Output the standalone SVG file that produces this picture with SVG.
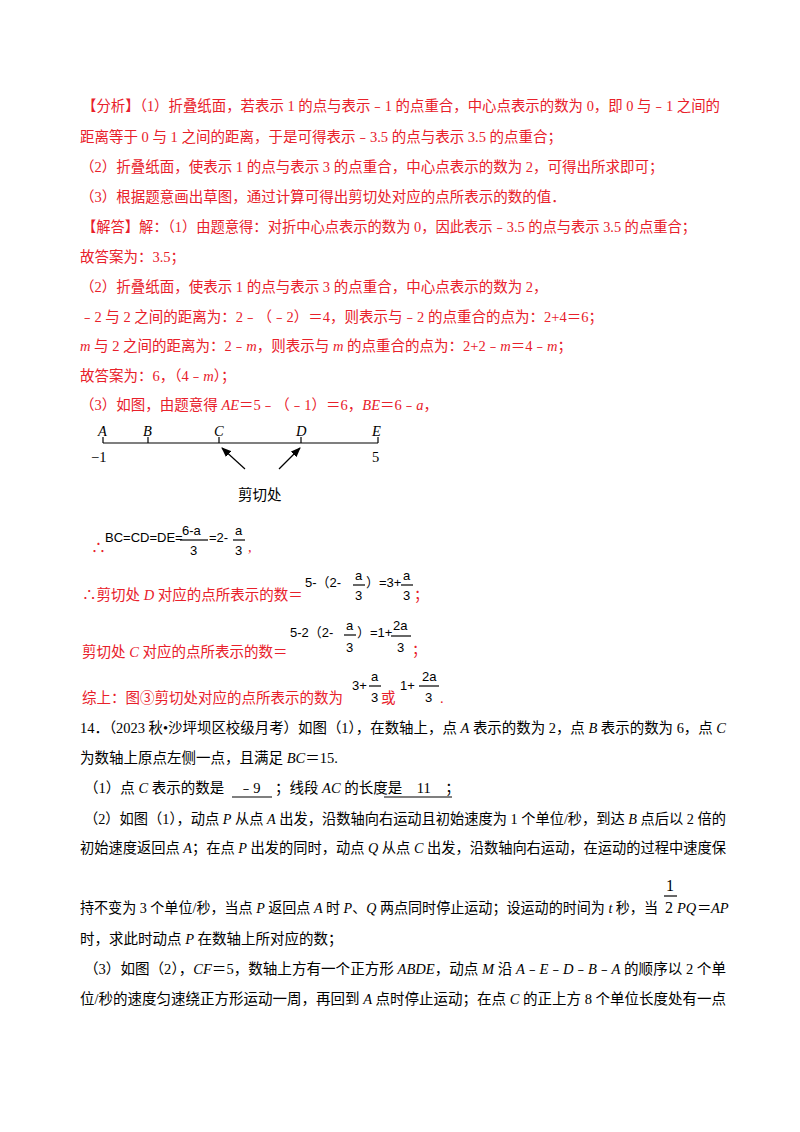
<svg xmlns="http://www.w3.org/2000/svg" width="800" height="1132" viewBox="0 0 800 1132">
<style>
text{font-family:"Liberation Serif","Noto Sans CJK SC",serif;font-size:14.5px;fill:#000}
.r{fill:#e8202a}
.f{font-family:"Liberation Sans","Noto Sans CJK SC",sans-serif;font-size:13px;fill:#000}
.i{font-style:italic}
line{stroke:#000;stroke-width:1.2}
</style>
<defs><marker id="ah" markerWidth="10" markerHeight="8" refX="9" refY="4" orient="auto" markerUnits="userSpaceOnUse"><path d="M0,0 L10,4 L0,8 z" fill="#000"/></marker></defs>
<rect width="800" height="1132" fill="#fff"/>
<g class="r">
<text class="r" x="82" y="111" textLength="638" lengthAdjust="spacingAndGlyphs">【分析】（1）折叠纸面，若表示 1 的点与表示﹣1 的点重合，中心点表示的数为 0，即 0 与﹣1 之间的</text>
<text class="r" x="80" y="142">距离等于 0 与 1 之间的距离，于是可得表示﹣3.5 的点与表示 3.5 的点重合；</text>
<text class="r" x="80" y="172">（2）折叠纸面，使表示 1 的点与表示 3 的点重合，中心点表示的数为 2，可得出所求即可；</text>
<text class="r" x="80" y="202">（3）根据题意画出草图，通过计算可得出剪切处对应的点所表示的数的值．</text>
<text class="r" x="82" y="232" textLength="614" lengthAdjust="spacingAndGlyphs">【解答】解：（1）由题意得：对折中心点表示的数为 0，因此表示﹣3.5 的点与表示 3.5 的点重合；</text>
<text class="r" x="80" y="262">故答案为：3.5；</text>
<text class="r" x="80" y="292">（2）折叠纸面，使表示 1 的点与表示 3 的点重合，中心点表示的数为 2，</text>
<text class="r" x="80" y="322">﹣2 与 2 之间的距离为：2﹣（﹣2）＝4，则表示与﹣2 的点重合的点为：2+4＝6；</text>
<text class="r" x="80" y="351"><tspan class="i">m</tspan> 与 2 之间的距离为：2﹣<tspan class="i">m</tspan>，则表示与 <tspan class="i">m</tspan> 的点重合的点为：2+2﹣<tspan class="i">m</tspan>＝4﹣<tspan class="i">m</tspan>；</text>
<text class="r" x="80" y="381">故答案为：6，（4﹣<tspan class="i">m</tspan>）；</text>
<text class="r" x="80" y="410">（3）如图，由题意得 <tspan class="i">AE</tspan>＝5﹣（﹣1）＝6，<tspan class="i">BE</tspan>＝6﹣<tspan class="i">a</tspan>，</text>
</g>
<g id="numberline">
<line x1="103" y1="443" x2="378" y2="443"/>
<line x1="103" y1="437" x2="103" y2="443"/><line x1="148" y1="437" x2="148" y2="443"/><line x1="219" y1="437" x2="219" y2="443"/><line x1="301" y1="437" x2="301" y2="443"/><line x1="378" y1="437" x2="378" y2="443"/>
<text class="i" x="98" y="436">A</text><text class="i" x="143" y="436">B</text><text class="i" x="214" y="436">C</text><text class="i" x="296" y="436">D</text><text class="i" x="372" y="436">E</text>
<text x="91" y="462">−1</text><text x="372" y="462">5</text>
<line x1="245" y1="469" x2="222" y2="448" marker-end="url(#ah)"/>
<line x1="279" y1="469" x2="300" y2="448" marker-end="url(#ah)"/>
<text x="238" y="500">剪切处</text>
</g>
<g>
<text class="r" x="91" y="553" style="font-size:15px">∴</text>
<text class="f" x="105" y="542">BC=CD=DE=</text>
<text class="f" x="182" y="535">6-a</text><line x1="180" y1="540" x2="208" y2="540" stroke-width="0.8"/><text class="f" x="190" y="555">3</text>
<text class="f" x="209" y="542">=2-</text>
<text class="f" x="235" y="535">a</text><line x1="233" y1="540" x2="245" y2="540" stroke-width="0.8"/><text class="f" x="235" y="555">3</text>
<text class="r" x="248" y="552">,</text>

<text class="r" x="82" y="600">∴剪切处 <tspan class="i">D</tspan> 对应的点所表示的数＝</text>
<text class="f" x="305" y="587">5-（2-</text><text class="f" x="355" y="580">a</text><line x1="353" y1="585" x2="365" y2="585" stroke-width="0.8"/><text class="f" x="355" y="600">3</text><text class="f" x="366" y="587">）=3+</text>
<text class="f" x="403" y="580">a</text><line x1="401" y1="585" x2="413" y2="585" stroke-width="0.8"/><text class="f" x="403" y="600">3</text><text class="r" x="414" y="600">；</text>

<text class="r" x="82" y="657">剪切处 <tspan class="i">C</tspan> 对应的点所表示的数＝</text>
<text class="f" x="290" y="637">5-2（2-</text><text class="f" x="346" y="630">a</text><line x1="344" y1="635" x2="356" y2="635" stroke-width="0.8"/><text class="f" x="346" y="652">3</text><text class="f" x="357" y="637">）=1+</text>
<text class="f" x="393" y="630">2a</text><line x1="391" y1="636" x2="411" y2="636" stroke-width="0.8"/><text class="f" x="397" y="652">3</text><text class="r" x="412" y="655">；</text>

<text class="r" x="82" y="703">综上：图③剪切处对应的点所表示的数为</text>
<text class="f" x="352" y="690">3+</text><text class="f" x="371" y="681">a</text><line x1="369" y1="686" x2="381" y2="686" stroke-width="0.8"/><text class="f" x="371" y="702">3</text>
<text class="r" x="381" y="703">或</text>
<text class="f" x="400" y="690">1+</text><text class="f" x="422" y="681">2a</text><line x1="419" y1="686" x2="439" y2="686" stroke-width="0.8"/><text class="f" x="425" y="702">3</text><text class="r" x="440" y="703">.</text>
</g>
<g>
<text x="80" y="733" textLength="646" lengthAdjust="spacingAndGlyphs">14．（2023 秋•沙坪坝区校级月考）如图（1），在数轴上，点 <tspan class="i">A</tspan> 表示的数为 2，点 <tspan class="i">B</tspan> 表示的数为 6，点 <tspan class="i">C</tspan></text>
<text x="80" y="763">为数轴上原点左侧一点，且满足 <tspan class="i">BC</tspan>＝15.</text>
<text x="84" y="793">（1）点 <tspan class="i">C</tspan> 表示的数是　﹣9　；线段 <tspan class="i">AC</tspan> 的长度是　11　；</text>
<line x1="232" y1="797" x2="272" y2="797" stroke-width="0.8"/><line x1="384" y1="797" x2="452" y2="797" stroke-width="0.8"/>
<text x="84" y="824" textLength="642" lengthAdjust="spacingAndGlyphs">（2）如图（1），动点 <tspan class="i">P</tspan> 从点 <tspan class="i">A</tspan> 出发，沿数轴向右运动且初始速度为 1 个单位/秒，到达 <tspan class="i">B</tspan> 点后以 2 倍的</text>
<text x="80" y="853" textLength="646" lengthAdjust="spacingAndGlyphs">初始速度返回点 <tspan class="i">A</tspan>；在点 <tspan class="i">P</tspan> 出发的同时，动点 <tspan class="i">Q</tspan> 从点 <tspan class="i">C</tspan> 出发，沿数轴向右运动，在运动的过程中速度保</text>
<text x="80" y="913" textLength="578" lengthAdjust="spacingAndGlyphs">持不变为 3 个单位/秒，当点 <tspan class="i">P</tspan> 返回点 <tspan class="i">A</tspan> 时 <tspan class="i">P</tspan>、<tspan class="i">Q</tspan> 两点同时停止运动；设运动的时间为 <tspan class="i">t</tspan> 秒，当</text>
<text x="666" y="891" style="font-size:16px">1</text><line x1="664" y1="896" x2="677" y2="896" stroke-width="1"/><text x="665" y="913" style="font-size:16px">2</text>
<text class="i" x="677" y="913">PQ</text><text x="697" y="913">＝</text><text class="i" x="711" y="913">AP</text>
<text x="80" y="944">时，求此时动点 <tspan class="i">P</tspan> 在数轴上所对应的数；</text>
<text x="84" y="974" textLength="642" lengthAdjust="spacingAndGlyphs">（3）如图（2），<tspan class="i">CF</tspan>＝5，数轴上方有一个正方形 <tspan class="i">ABDE</tspan>，动点 <tspan class="i">M</tspan> 沿 <tspan class="i">A</tspan>﹣<tspan class="i">E</tspan>﹣<tspan class="i">D</tspan>﹣<tspan class="i">B</tspan>﹣<tspan class="i">A</tspan> 的顺序以 2 个单</text>
<text x="80" y="1004" textLength="646" lengthAdjust="spacingAndGlyphs">位/秒的速度匀速绕正方形运动一周，再回到 <tspan class="i">A</tspan> 点时停止运动；在点 <tspan class="i">C</tspan> 的正上方 8 个单位长度处有一点</text>
</g>
</svg>
